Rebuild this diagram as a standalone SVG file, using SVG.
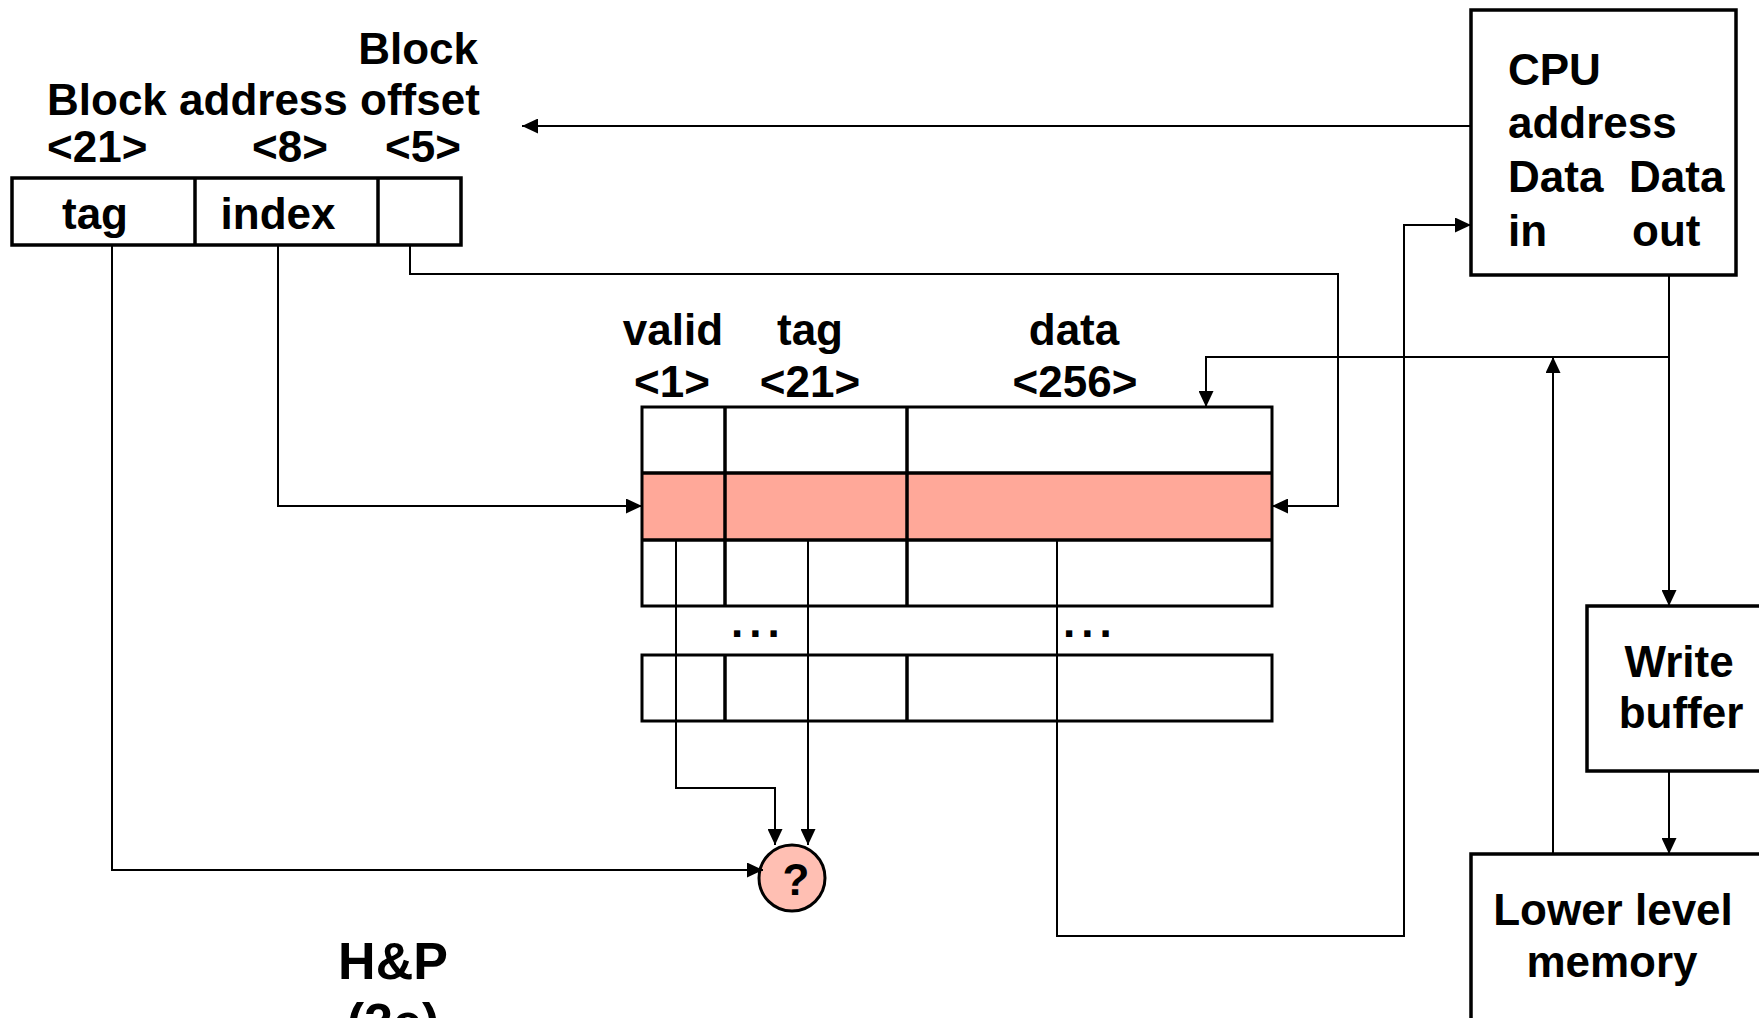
<svg xmlns="http://www.w3.org/2000/svg" width="1759" height="1018" viewBox="0 0 1759 1018">
<style>
text{font-family:"Liberation Sans",Arial,sans-serif;font-weight:bold;font-size:44px;fill:#000}
.box{fill:#fff;stroke:#000;stroke-width:3.5}
.thin{fill:none;stroke:#000;stroke-width:3}
.c{text-anchor:middle}
.e{text-anchor:end}
.big{font-size:52px}
.wire{fill:none;stroke:#000;stroke-width:2}
.arr{marker-end:url(#ah)}
.hl{fill:#FFA899}
</style>
<defs>
<marker id="ah" markerUnits="userSpaceOnUse" markerWidth="17" markerHeight="15" refX="16" refY="7.5" orient="auto">
<path d="M0,0 L16,7.5 L0,15 z" fill="#000"/>
</marker>
</defs>
<rect width="1759" height="1018" fill="#fff"/>

<g id="address-fields">
<text x="478" y="64" class="e">Block</text>
<text x="47" y="115">Block address offset</text>
<text x="47" y="162">&lt;21&gt;</text>
<text x="252" y="162">&lt;8&gt;</text>
<text x="385" y="162">&lt;5&gt;</text>
<rect x="12" y="178" width="449" height="67" class="box"/>
<line x1="195" y1="178" x2="195" y2="245" stroke="#000" stroke-width="3.5"/>
<line x1="378" y1="178" x2="378" y2="245" stroke="#000" stroke-width="3.5"/>
<text x="95" y="229" class="c">tag</text>
<text x="278" y="229" class="c">index</text>
</g>

<g id="cpu">
<rect x="1471" y="10" width="265" height="265" class="box"/>
<text x="1508" y="85">CPU</text>
<text x="1508" y="138">address</text>
<text x="1508" y="192">Data</text>
<text x="1629" y="192">Data</text>
<text x="1508" y="246">in</text>
<text x="1632" y="246">out</text>
</g>

<g id="cache-table">
<text x="673" y="345" class="c">valid</text>
<text x="672" y="397" class="c">&lt;1&gt;</text>
<text x="810" y="345" class="c">tag</text>
<text x="810" y="397" class="c">&lt;21&gt;</text>
<text x="1074" y="345" class="c">data</text>
<text x="1075" y="397" class="c">&lt;256&gt;</text>
<rect x="642" y="473" width="630" height="67" class="hl"/>
<rect x="642" y="407" width="630" height="199" class="thin" stroke-width="3.5"/>
<line x1="642" y1="473" x2="1272" y2="473" stroke="#000" stroke-width="3.5"/>
<line x1="642" y1="540" x2="1272" y2="540" stroke="#000" stroke-width="3.5"/>
<line x1="725" y1="407" x2="725" y2="606" stroke="#000" stroke-width="3.5"/>
<line x1="907" y1="407" x2="907" y2="606" stroke="#000" stroke-width="3.5"/>
<rect x="642" y="655" width="630" height="66" class="thin" stroke-width="3.5"/>
<line x1="725" y1="655" x2="725" y2="721" stroke="#000" stroke-width="3.5"/>
<line x1="907" y1="655" x2="907" y2="721" stroke="#000" stroke-width="3.5"/>
<text x="731" y="637" letter-spacing="6">...</text>
<text x="1063" y="637" letter-spacing="6">...</text>
</g>

<g id="compare">
<circle cx="792" cy="878" r="33" fill="#FFBFB3" stroke="#000" stroke-width="3"/>
<text x="796" y="895" class="c">?</text>
</g>

<g id="write-buffer">
<rect x="1587" y="606" width="185" height="165" class="box" stroke-width="3"/>
<text x="1679" y="677" class="c">Write</text>
<text x="1681" y="728" class="c">buffer</text>
</g>

<g id="lower-memory">
<rect x="1471" y="854" width="300" height="180" class="box" stroke-width="3"/>
<text x="1613" y="925" class="c">Lower level</text>
<text x="1612" y="977" class="c">memory</text>
</g>

<g id="source-note">
<text x="393" y="979" class="c big">H&amp;P</text>
<text x="393" y="1040" class="c big">(2e)</text>
</g>

<g id="connectors">
<path class="wire arr" d="M1471,126 H522"/>
<path class="wire arr" d="M112,245 V870 H763"/>
<path class="wire arr" d="M278,245 V506 H642"/>
<path class="wire arr" d="M410,245 V274 H1338 V506 H1272"/>
<path class="wire arr" d="M676,540 V788 H775 V845"/>
<path class="wire arr" d="M808,540 V845"/>
<path class="wire arr" d="M1057,540 V936 H1404 V225 H1471"/>
<path class="wire arr" d="M1669,275 V606"/>
<path class="wire arr" d="M1669,357 H1206 V407"/>
<path class="wire arr" d="M1553,854 V357"/>
<path class="wire arr" d="M1669,771 V854"/>
</g>
</svg>
